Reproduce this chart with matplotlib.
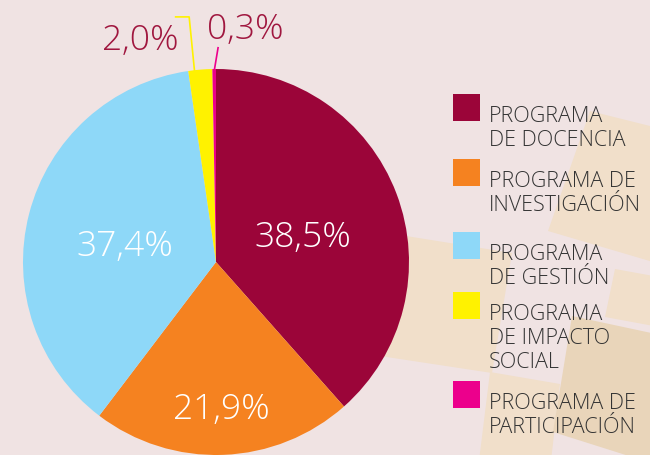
import numpy as np
import matplotlib
matplotlib.use("Agg")
import matplotlib.pyplot as plt
from matplotlib.patches import Polygon, Rectangle

# data
programas = ["PROGRAMA\nDE DOCENCIA", "PROGRAMA DE\nINVESTIGACIÓN", "PROGRAMA\nDE GESTIÓN",
              "PROGRAMA\nDE IMPACTO\nSOCIAL", "PROGRAMA DE\nPARTICIPACIÓN"]
porcentajes = [38.5, 21.9, 37.4, 2.0, 0.3]
etiquetas = ["38,5%", "21,9%", "37,4%", "2,0%", "0,3%"]
colores = ["#9b0539", "#f58220", "#8ed8f8", "#fff200", "#ec008c"]

BG = "#f0e3e3"
FONT = ["Open Sans", "DejaVu Sans"]

fig = plt.figure(figsize=(6.5, 4.56), dpi=100)
fig.patch.set_facecolor(BG)

# background decorations, pixel coords
bg = fig.add_axes([0, 0, 1, 1], zorder=0)
bg.set_xlim(0, 650)
bg.set_ylim(456, 0)
bg.axis("off")
light = "#f1dfca"
dark = "#e9d5ba"
for pts, c in [
    ([(590, 112), (670, 132), (670, 268), (548, 232)], light),
    ([(400, 236), (512, 254), (492, 374), (380, 357)], light),
    ([(490, 373), (560, 385), (550, 470), (478, 470)], light),
    ([(572, 317), (670, 338), (670, 470), (553, 433)], dark),
    ([(615, 270), (670, 280), (670, 330), (605, 318)], light),
]:
    bg.add_patch(Polygon(pts, closed=True, facecolor=c, edgecolor="none"))

# legend (pixel coords)
sq_top = [95, 160, 233, 293, 382]
for y, lab, c in zip(sq_top, programas, colores):
    bg.add_patch(Rectangle((453, y), 27, 27, facecolor=c, edgecolor="none"))
    for i, line in enumerate(lab.split("\n")):
        bg.text(489, y + 27 + i * 24, line, fontsize=15.5, color="#333333", family=FONT,
                fontweight="light", va="baseline", ha="left")

# pie
cx, cy, r = 216, 263, 193
ax = fig.add_axes([(cx - r) / 650, (456 - cy - r) / 456, 2 * r / 650, 2 * r / 456], zorder=1)
wedges, _ = ax.pie(porcentajes, colors=colores, startangle=90, counterclock=False,
                   wedgeprops=dict(linewidth=0))
ax.set_xlim(-1, 1)
ax.set_ylim(-1, 1)
ax.axis("off")
for ax_ in (ax, bg):
    ax_.patch.set_alpha(0)

dist = [0.48, 0.72, 0.49]
for w, lab, d in zip(wedges[:3], etiquetas[:3], dist):
    a = np.deg2rad((w.theta1 + w.theta2) / 2)
    ax.text(d * np.cos(a), d * np.sin(a) - 0.04, lab, color="white", fontsize=25.5,
            family=FONT, fontweight="light", ha="center", va="center")

# small slices with leader lines
crim = "#a0173f"
w = wedges[3]
a = np.deg2rad((w.theta1 + w.theta2) / 2)
x0, y0 = 0.97 * np.cos(a) - 0.03, 0.97 * np.sin(a)
ax.plot([x0, x0 - 0.03, x0 - 0.10], [y0, 1.27, 1.27], color="#fff200", lw=1.2, clip_on=False)
ax.text(-0.39, 1.15, etiquetas[3], color=crim, fontsize=25.5, family=FONT,
        fontweight="light", ha="center", va="center")

w = wedges[4]
a = np.deg2rad((w.theta1 + w.theta2) / 2)
x0, y0 = 0.99 * np.cos(a), 0.99 * np.sin(a)
ax.plot([x0, x0 + 0.02], [y0, 1.11], color="#ec008c", lw=1.2, clip_on=False)
ax.text(0.15, 1.21, etiquetas[4], color=crim, fontsize=25.5, family=FONT,
        fontweight="light", ha="center", va="center")

fig.savefig("out.png", dpi=100, facecolor=BG)
